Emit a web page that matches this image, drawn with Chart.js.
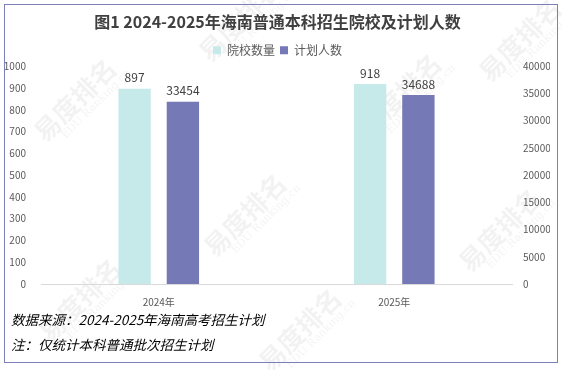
<!DOCTYPE html>
<html>
<head>
<meta charset="utf-8">
<script src="https://cdn.jsdelivr.net/npm/chart.js@4/dist/chart.umd.min.js"></script>
<style>
  body { margin: 0; background: #fff; }
  #wrap { position: absolute; left: 0; top: 0; width: 562px; height: 370px; }
  #frame { position: absolute; left: 4px; top: 4px; width: 552px; height: 357px; border: 1.5px solid #7b80b6; pointer-events: none; }
  .note { position: absolute; left: 11px; font-family: "Noto Sans CJK SC", sans-serif; font-style: italic; font-size: 13.5px; color: #000; }
</style>
</head>
<body>
<div id="wrap">
  <canvas id="chart" width="562" height="370"></canvas>
  <div id="frame"></div>
  <div class="note" style="top:309px">数据来源：2024-2025年海南高考招生计划</div>
  <div class="note" style="top:334px">注：仅统计本科普通批次招生计划</div>
</div>
<script>
const years = ['2024年', '2025年'];
const schoolCounts = [897, 918];
const planCounts = [33454, 34688];
const leftTicks = [0, 100, 200, 300, 400, 500, 600, 700, 800, 900, 1000];
const rightTicks = [0, 5000, 10000, 15000, 20000, 25000, 30000, 35000, 40000];

const tickFont = { family: '"Noto Sans CJK SC", sans-serif', size: 10 };

// faint watermark tiles
const watermark = {
    id: 'watermark',
    beforeDraw(chart) {
        const ctx = chart.ctx;
        const spots = [[75, 100], [245, 215], [400, 95], [500, 230], [80, 300], [300, 330], [520, 40], [240, 20]];
        ctx.save();
        spots.forEach(([x, y]) => {
            ctx.save();
            ctx.translate(x, y);
            ctx.rotate(-Math.PI / 4);
            ctx.fillStyle = 'rgba(0,0,0,0.05)';
            ctx.font = 'bold 26px "Noto Sans CJK SC"';
            ctx.textAlign = 'center';
            ctx.fillText('易度排名', 0, 0);
            ctx.font = '11px "DejaVu Serif"';
            ctx.fillText('EDU Ranking.cn', 12, 18);
            ctx.restore();
        });
        ctx.restore();
    }
};

// value labels above each bar
const barLabels = {
    id: 'barLabels',
    afterDatasetsDraw(chart) {
        const ctx = chart.ctx;
        ctx.save();
        ctx.fillStyle = '#404040';
        ctx.font = '12px "Noto Sans CJK SC"';
        ctx.textAlign = 'center';
        ctx.textBaseline = 'bottom';
        chart.data.datasets.forEach((ds, i) => {
            chart.getDatasetMeta(i).data.forEach((bar, j) => {
                ctx.fillText(ds.data[j], bar.x, bar.y - 5);
            });
        });
        ctx.restore();
    }
};

new Chart(document.getElementById('chart'), {
    type: 'bar',
    data: {
        labels: years,
        datasets: [
            { label: '院校数量', data: schoolCounts, backgroundColor: '#c6eae9', yAxisID: 'y' },
            { label: '计划人数', data: planCounts, backgroundColor: '#7579b5', yAxisID: 'y1' }
        ]
    },
    options: {
        responsive: false,
        animation: false,
        categoryPercentage: 0.41,
        barPercentage: 0.67,
        layout: { padding: { left: 5, right: 12, top: 10, bottom: 62 } },
        plugins: {
            title: {
                display: true,
                text: '图1 2024-2025年海南普通本科招生院校及计划人数',
                color: '#404040',
                font: { family: '"Noto Sans CJK SC", sans-serif', size: 16, weight: 'bold' },
                padding: { top: 2, bottom: 8 }
            },
            legend: {
                labels: {
                    color: '#595959',
                    font: { family: '"Noto Sans CJK SC", sans-serif', size: 12 },
                    boxWidth: 8, boxHeight: 8, padding: 5
                }
            },
            tooltip: { enabled: false }
        },
        scales: {
            x: {
                grid: { display: false },
                border: { color: '#d9d9d9' },
                ticks: { color: '#595959', font: tickFont, padding: 4 },
                afterFit(s) { s.height = 24; }
            },
            y: {
                position: 'left',
                min: 0, max: 1000,
                afterBuildTicks(s) { s.ticks = leftTicks.map(v => ({ value: v })); },
                grid: { display: false },
                border: { display: false },
                ticks: { color: '#595959', font: tickFont, padding: 7, callback: v => String(v) },
                afterFit(s) { s.width = 36; }
            },
            y1: {
                position: 'right',
                min: 0, max: 40000,
                afterBuildTicks(s) { s.ticks = rightTicks.map(v => ({ value: v })); },
                grid: { display: false },
                border: { display: false },
                ticks: { color: '#595959', font: tickFont, padding: 3, callback: v => String(v) },
                afterFit(s) { s.width = 38; }
            }
        }
    },
    plugins: [watermark, barLabels]
});
</script>
</body>
</html>
